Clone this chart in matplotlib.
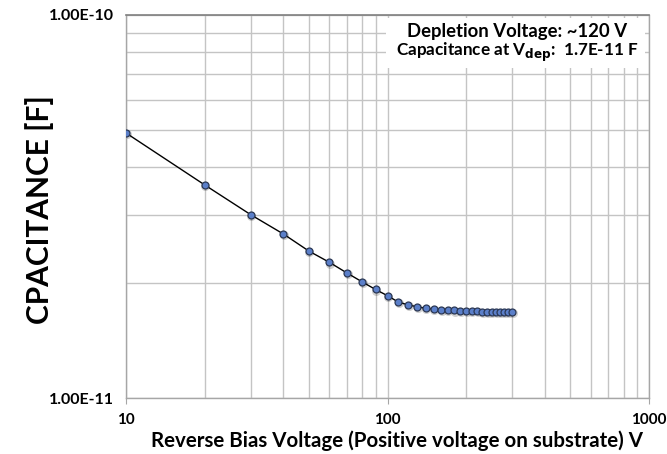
import matplotlib
matplotlib.use("Agg")
import matplotlib.pyplot as plt
from matplotlib.ticker import FixedLocator, NullFormatter, FixedFormatter
from matplotlib.patches import Rectangle

voltage = [10, 20, 30, 40, 50, 60, 70, 80, 90, 100,
           110, 120, 130, 140, 150, 160, 170, 180, 190, 200,
           210, 220, 230, 240, 250, 260, 270, 280, 290, 300]
capacitance = [4.92e-11, 3.60e-11, 3.01e-11, 2.68e-11, 2.42e-11, 2.26e-11, 2.12e-11, 2.01e-11, 1.92e-11, 1.85e-11,
               1.78e-11, 1.75e-11, 1.73e-11, 1.715e-11, 1.705e-11, 1.70e-11, 1.695e-11, 1.693e-11, 1.69e-11, 1.688e-11,
               1.686e-11, 1.684e-11, 1.682e-11, 1.68e-11, 1.68e-11, 1.679e-11, 1.678e-11, 1.677e-11, 1.676e-11, 1.675e-11]
x_ticks = [10, 100, 1000]
x_tick_labels = ["10", "100", "1000"]
y_ticks = [1e-11, 1e-10]
y_tick_labels = ["1.00E-11", "1.00E-10"]

FONT = "Lato"
plt.rcParams['font.family'] = [FONT, 'DejaVu Sans']

fig = plt.figure(figsize=(6.67, 4.54), dpi=100)
ax = fig.add_axes([126/667, 1 - 398/454, (649-126)/667, (398-15)/454])

ax.set_xscale('log')
ax.set_yscale('log')
ax.set_xlim(10, 1000)
ax.set_ylim(1e-11, 1e-10)

ax.xaxis.set_major_locator(FixedLocator(x_ticks))
ax.xaxis.set_major_formatter(FixedFormatter(x_tick_labels))
ax.xaxis.set_minor_formatter(NullFormatter())
ax.yaxis.set_major_locator(FixedLocator(y_ticks))
ax.yaxis.set_major_formatter(FixedFormatter(y_tick_labels))
ax.yaxis.set_minor_formatter(NullFormatter())

ax.grid(True, which='both', color='#c4c4c4', linewidth=1.0)
ax.set_axisbelow(True)

for s in ['left', 'bottom', 'right']:
    ax.spines[s].set_color('#a6a6a6')
    ax.spines[s].set_linewidth(1.0)
ax.spines['top'].set_color('#7f7f7f')
ax.spines['top'].set_linewidth(1.2)

ax.tick_params(axis='x', which='major', length=4, color='#a6a6a6', pad=7,
               labelsize=11)
ax.tick_params(axis='y', which='major', length=0, pad=9, labelsize=11.5)
ax.tick_params(which='minor', length=0)
for lab in ax.get_xticklabels() + ax.get_yticklabels():
    lab.set_fontweight('bold')

# soft marker shadow
ax.plot([v * 1.006 for v in voltage], [c * 0.993 for c in capacitance],
        linestyle='none', marker='o', markersize=6.5, markerfacecolor='#000000',
        markeredgecolor='none', alpha=0.18, zorder=2.5)
ax.plot(voltage, capacitance, color='black', linewidth=1.0, zorder=3,
        marker='o', markersize=5, markerfacecolor='#5b7fc9',
        markeredgecolor='#2b3855', markeredgewidth=0.9)

fig.text(397/667, 1 - 441/454, "Reverse Bias Voltage (Positive voltage on substrate) V",
         fontsize=14.8, fontweight='bold', ha='center', va='center')
fig.text(40/667, 1 - 210/454, "CPACITANCE [F]", rotation=90, fontsize=21.5,
         fontweight='bold', ha='center', va='center')

# annotation box
ax.add_patch(Rectangle((386/667, 1 - 68/454), (645-386)/667, (68-18)/454,
                       transform=fig.transFigure, facecolor='white',
                       edgecolor='none', zorder=4))
fig.text(517/667, 1 - 32/454, "Depletion Voltage: ~120 V", fontsize=13.3,
         fontweight='bold', ha='center', va='center', zorder=5)
fig.text(639/667, 1 - 52/454, r"Capacitance at V$_{\mathbf{dep}}$:  1.7E-11 F",
         fontsize=12.3, fontweight='bold', ha='right', va='center', zorder=5)

fig.savefig("out.png", dpi=100)
